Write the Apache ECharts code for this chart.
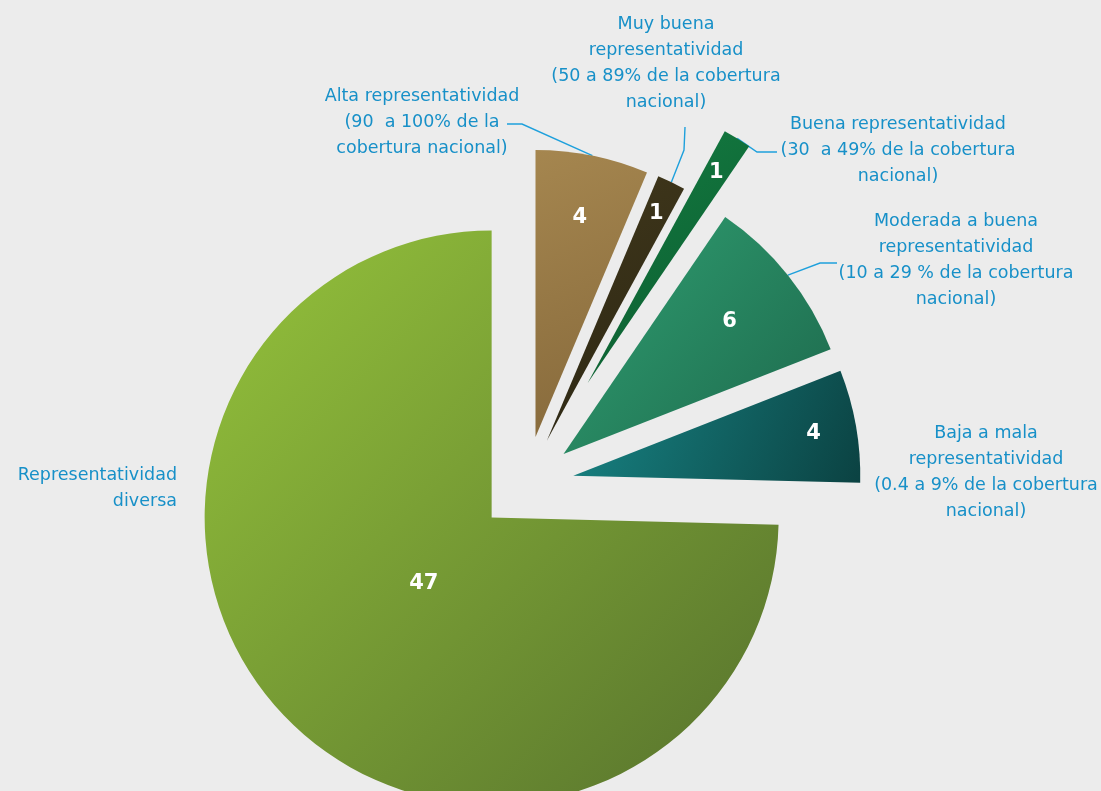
<!DOCTYPE html>
<html>
<head>
<meta charset="utf-8">
<script src="https://cdn.jsdelivr.net/npm/echarts@6/dist/echarts.min.js"></script>
<style>
html,body{margin:0;padding:0;background:#ececec;}
#chart{width:1101px;height:791px;}
</style>
</head>
<body>
<div id="chart"></div>
<script>
// ---- data ----
const categories = [
  'Alta representatividad\n(90  a 100% de la\ncobertura nacional)',
  'Muy buena\nrepresentatividad\n(50 a 89% de la cobertura\nnacional)',
  'Buena representatividad\n(30  a 49% de la cobertura\nnacional)',
  'Moderada a buena\nrepresentatividad\n(10 a 29 % de la cobertura\nnacional)',
  'Baja a mala\nrepresentatividad\n(0.4 a 9% de la cobertura\nnacional)',
  'Representatividad\ndiversa'
];
const values = [4, 1, 1, 6, 4, 47];

// ---- styles ----
const gradTop = ['#a5864f', '#40371b', '#147c42', '#30a072', '#188585', '#95c33b'];
const gradBottom = ['#85683a', '#2b2613', '#0b5a2e', '#1d684c', '#0b4242', '#56712d'];
const textBlue = '#1790c8';

// ---- layout ----
const CX = 526, CY = 484, R = 287;
const offsets = [48, 48, 118, 48, 48, 48];
const valueLabelFrac = [0.78, 0.88, 0.86, 0.74, 0.85, 0.33];
const nameLayout = [
  {x: 422, y: 122, align: 'center', line: [[522, 124], [507, 124]]},
  {x: 666, y: 63, align: 'center', line: [[684, 150], [685, 127]]},
  {x: 898, y: 150, align: 'center', line: [[757, 152], [777, 152]]},
  {x: 956, y: 260, align: 'center', line: [[820, 263], [837, 263]]},
  {x: 986, y: 472, align: 'center'},
  {x: 177, y: 488, align: 'right'}
];

const total = values.reduce((a, b) => a + b, 0);
function bisector(i) {
  let before = 0;
  for (let k = 0; k < i; k++) before += values[k];
  const a = (before + values[i] / 2) / total * 2 * Math.PI;
  return [Math.sin(a), -Math.cos(a)];
}

function fill(i) {
  return {
    type: 'linear', x: 0, y: 0, x2: 1, y2: 1,
    colorStops: [{offset: 0, color: gradTop[i]}, {offset: 1, color: gradBottom[i]}]
  };
}

const base = {
  type: 'pie',
  center: [CX, CY],
  radius: R,
  startAngle: 90,
  clockwise: true,
  animation: false,
  silent: true,
  avoidLabelOverlap: false,
  emphasis: {disabled: true},
  selectedMode: 'multiple'
};

const isolated = 2;

const chart = echarts.init(document.getElementById('chart'), null, {renderer: 'canvas'});
chart.setOption({
  backgroundColor: '#ececec',
  series: [
    Object.assign({}, base, {
      selectedOffset: offsets[0],
      label: {show: false}, labelLine: {show: false},
      data: values.map((v, i) => ({
        name: categories[i], value: v, selected: true,
        itemStyle: {color: i === isolated ? 'transparent' : fill(i), borderWidth: 0}
      }))
    }),
    Object.assign({}, base, {
      selectedOffset: offsets[isolated],
      label: {show: false}, labelLine: {show: false},
      data: values.map((v, i) => ({
        name: categories[i], value: v, selected: true,
        itemStyle: {color: i === isolated ? fill(i) : 'transparent', borderWidth: 0}
      }))
    }),
    Object.assign({}, base, {
      itemStyle: {color: 'transparent'},
      label: {
        show: true, position: 'inside', formatter: '{c}',
        color: '#ffffff', fontFamily: 'DejaVu Sans', fontWeight: 'bold', fontSize: 21
      },
      labelLine: {show: false},
      labelLayout: function (p) {
        const i = p.dataIndex;
        const d = bisector(i);
        const r = offsets[i] + valueLabelFrac[i] * R;
        return {x: CX + r * d[0], y: CY + r * d[1], align: 'center', verticalAlign: 'middle'};
      },
      data: values.map((v, i) => ({name: categories[i], value: v}))
    }),
    Object.assign({}, base, {
      itemStyle: {color: 'transparent'},
      label: {
        show: true, position: 'outside', formatter: '{b}', alignTo: 'none',
        color: textBlue, fontFamily: 'DejaVu Sans', fontSize: 17.5, lineHeight: 26
      },
      labelLine: {show: true, lineStyle: {color: '#1ea0dc', width: 1.4}},
      labelLayout: function (p) {
        const i = p.dataIndex;
        const L = nameLayout[i];
        const out = {x: L.x, y: L.y, align: L.align, verticalAlign: 'middle'};
        if (L.line) {
          const d = bisector(i);
          const r = offsets[i] + R;
          out.labelLinePoints = [[CX + r * d[0], CY + r * d[1]], L.line[0], L.line[1]];
        }
        return out;
      },
      data: values.map((v, i) => ({
        name: categories[i], value: v,
        labelLine: {show: !!nameLayout[i].line}
      }))
    })
  ]
});
</script>
</body>
</html>
